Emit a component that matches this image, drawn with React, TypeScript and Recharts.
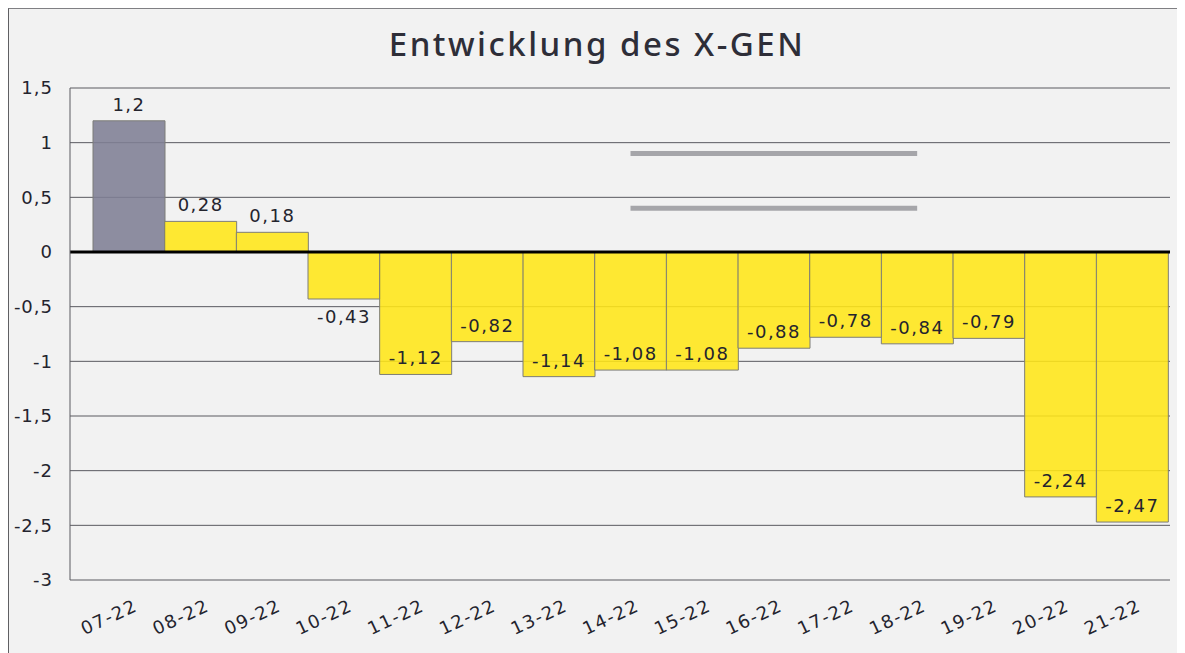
import React from 'react'
import { BarChart, Bar, XAxis, YAxis, CartesianGrid, ReferenceLine, LabelList, Cell } from 'recharts'

const months = ['07-22', '08-22', '09-22', '10-22', '11-22', '12-22', '13-22', '14-22', '15-22', '16-22', '17-22', '18-22', '19-22', '20-22', '21-22']
const values = [1.2, 0.28, 0.18, -0.43, -1.12, -0.82, -1.14, -1.08, -1.08, -0.88, -0.78, -0.84, -0.79, -2.24, -2.47]
const yTicks = [1.5, 1, 0.5, 0, -0.5, -1, -1.5, -2, -2.5, -3]
// the two grey strokes sitting in the upper middle of the original
const markerLevels = [0.9, 0.4]
const markerFrom = '14-22'
const markerTo = '18-22'

const data = months.map((m, i) => ({ month: m, value: values[i] }))

const fmt = (v: number) => String(v).replace('.', ',')

const TEXT = '#24242e'
const FONT = '"DejaVu Sans", Verdana, sans-serif'

const BarLabel = (props: any) => {
  const { x, y, width, height, value } = props
  const top = Math.min(y, y + height)
  const bottom = Math.max(y, y + height)
  let ty
  if (value >= 0) ty = top - 10
  else if (bottom - top > 60) ty = bottom - 10
  else ty = bottom + 24
  return (
    <text x={x + width / 2} y={ty} textAnchor="middle" fill={TEXT} fontSize={18} fontFamily={FONT} letterSpacing={1.5}>
      {fmt(value)}
    </text>
  )
}

const MonthTick = (props: any) => {
  const { x, y, payload } = props
  return (
    <g transform={`translate(${x},${y})`}>
      <text x={10} y={30} textAnchor="end" transform="rotate(-25, 10, 30)" fill={TEXT} fontSize={18} fontFamily={FONT} letterSpacing={1.5}>
        {payload.value}
      </text>
    </g>
  )
}

export default function App() {
  return (
    <div
      style={{
        position: 'relative',
        marginLeft: -1,
        marginTop: -1,
        width: 1178,
        height: 646,
        boxSizing: 'border-box',
        borderTop: '2px solid #7f7f83',
        borderLeft: '2px solid #5f5f63',
        background: '#f2f2f2',
        overflow: 'hidden',
      }}
    >
      <div
        style={{
          position: 'absolute',
          left: 0,
          top: 15,
          width: 1176,
          textAlign: 'center',
          fontFamily: '"Noto Sans", sans-serif',
          fontSize: 33,
          fontWeight: 500,
          lineHeight: '40px',
          letterSpacing: 2.5,
          color: '#2e2e38',
        }}
      >
        Entwicklung des X-GEN
      </div>
      <div style={{ position: 'absolute', left: 0, top: 0 }}>
        <BarChart width={1176} height={644} data={data} margin={{ top: 79, right: 15, left: 0, bottom: 0 }} barCategoryGap={0}>
          <CartesianGrid vertical={false} stroke="#5a5a60" strokeWidth={1} />
          <XAxis
            dataKey="month"
            axisLine={false}
            tickLine={false}
            tickSize={0}
            tickMargin={0}
            height={73}
            interval={0}
            padding={{ left: 23, right: 2 }}
            tick={<MonthTick />}
          />
          <YAxis
            type="number"
            domain={[-3, 1.5]}
            ticks={yTicks}
            width={61}
            axisLine={{ stroke: '#5a5a60' }}
            tickLine={false}
            tickSize={0}
            tickMargin={17}
            tickFormatter={fmt}
            tick={{ fill: TEXT, fontSize: 18, fontFamily: FONT, letterSpacing: 1 }}
          />
          <Bar dataKey="value" isAnimationActive={false} stroke="#7d7d78" strokeWidth={1} fillOpacity={0.88}>
            {data.map((d, i) => (
              <Cell key={d.month} fill={i === 0 ? '#7e7e94' : '#ffe617'} />
            ))}
            <LabelList dataKey="value" content={<BarLabel />} />
          </Bar>
          <ReferenceLine y={0} stroke="#000" strokeWidth={3} />
          {markerLevels.map((lvl) => (
            <ReferenceLine
              key={lvl}
              segment={[
                { x: markerFrom, y: lvl },
                { x: markerTo, y: lvl },
              ]}
              stroke="#a6a6aa"
              strokeWidth={5}
            />
          ))}
        </BarChart>
      </div>
    </div>
  )
}
